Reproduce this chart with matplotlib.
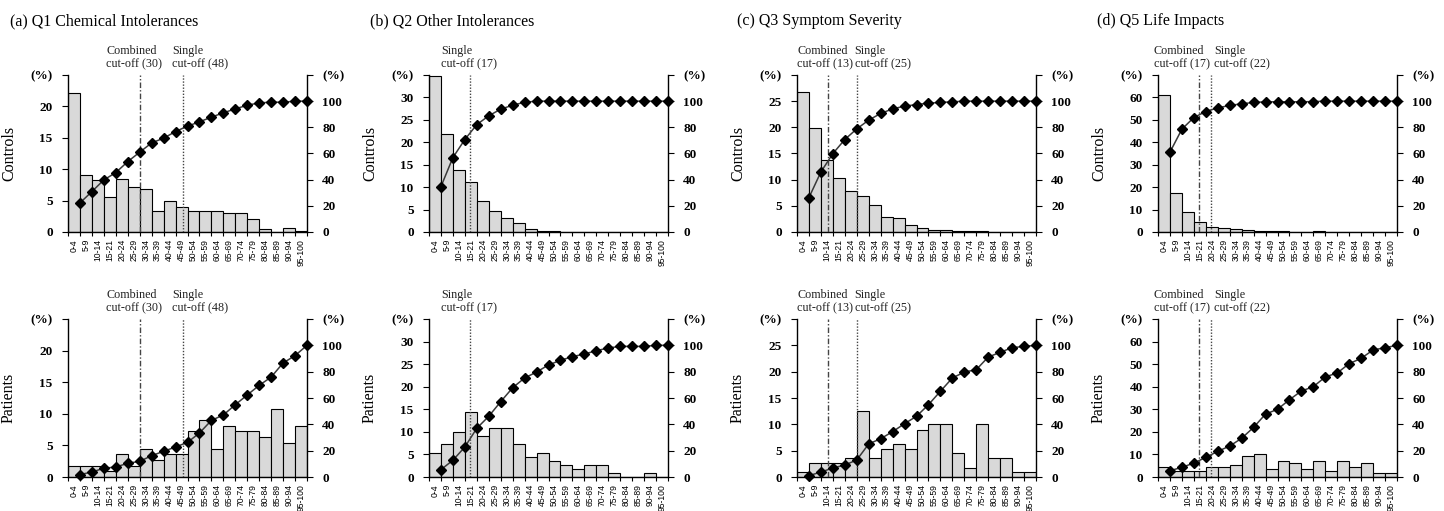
import matplotlib
matplotlib.use("Agg")
import matplotlib.pyplot as plt
import matplotlib.transforms as mtransforms
import numpy as np

plt.rcParams['font.family'] = ['Liberation Serif', 'DejaVu Serif']

bins = ["0-4", "5-9", "10-14", "15-21", "20-24", "25-29", "30-34", "35-39",
        "40-44", "45-49", "50-54", "55-59", "60-64", "65-69", "70-74",
        "75-79", "80-84", "85-89", "90-94", "95-100"]

titles = ["(a) Q1 Chemical Intolerances", "(b) Q2 Other Intolerances",
          "(c) Q3 Symptom Severity", "(d) Q5 Life Impacts"]
row_labels = ["Controls", "Patients"]

# Q1 Chemical Intolerances
q1_controls_pct = [22.1, 9.0, 8.3, 5.65, 8.5, 7.2, 6.9, 3.4, 5.0, 4.0,
                   3.4, 3.4, 3.4, 3.0, 3.0, 2.0, 0.4, 0.0, 0.6, 0.2]
q1_controls_cum = [22.2, 30.9, 39.8, 45.4, 53.8, 61.0, 68.1, 71.7, 76.8, 80.9,
                   84.2, 87.8, 91.1, 94.1, 96.9, 98.7, 99.2, 99.2, 100, 100]
q1_patients_pct = [1.8, 1.8, 1.8, 0.9, 3.6, 1.8, 4.5, 2.7, 3.6, 3.6,
                   7.3, 9.05, 4.5, 8.1, 7.3, 7.3, 6.4, 10.8, 5.4, 8.1]
q1_patients_cum = [1.8, 3.8, 6.6, 7.6, 10.4, 11.9, 16.2, 19.5, 22.8, 26.3,
                   33.4, 43.0, 47.1, 54.9, 62.3, 69.6, 75.9, 86.6, 92.2, 100]

# Q2 Other Intolerances
q2_controls_pct = [34.7, 21.8, 13.9, 11.2, 6.8, 4.7, 3.1, 2.1, 0.7, 0.15,
                   0.15, 0, 0, 0, 0, 0, 0, 0, 0, 0]
q2_controls_cum = [34.7, 56.9, 70.7, 82.1, 88.8, 93.9, 96.9, 99.2, 100, 100,
                   100, 100, 100, 100, 100, 100, 100, 100, 100, 100]
q2_patients_pct = [5.4, 7.2, 10.0, 14.5, 9.0, 10.9, 10.9, 7.2, 4.5, 5.4,
                   3.6, 2.7, 1.8, 2.7, 2.7, 0.9, 0, 0, 0.9, 0]
q2_patients_cum = [5.6, 12.7, 22.8, 37.0, 46.1, 57.2, 67.8, 75.2, 79.7, 85.1,
                   88.6, 91.4, 93.4, 95.9, 98.0, 99.2, 99.2, 99.2, 100, 100]

# Q3 Symptom Severity
q3_controls_pct = [26.7, 19.8, 13.8, 10.4, 7.9, 6.8, 5.2, 2.9, 2.7, 1.3,
                   0.8, 0.45, 0.45, 0.2, 0.2, 0.2, 0, 0, 0, 0]
q3_controls_cum = [26.3, 45.9, 59.9, 70.7, 78.8, 85.5, 90.6, 94.1, 96.2, 97.4,
                   98.5, 99.0, 99.5, 100, 100, 100, 100, 100, 100, 100]
q3_patients_pct = [0.9, 2.7, 2.7, 2.7, 3.6, 12.6, 3.6, 5.4, 6.3, 5.4,
                   9.0, 10.0, 10.0, 4.5, 1.8, 10.0, 3.6, 3.6, 0.9, 0.9]
q3_patients_cum = [1.0, 3.8, 6.8, 9.1, 12.9, 25.1, 29.1, 34.4, 40.5, 46.1,
                   54.9, 65.1, 75.2, 79.7, 81.5, 91.1, 94.7, 98.2, 99.2, 100]

# Q5 Life Impacts
q5_controls_pct = [61.3, 17.6, 8.9, 4.5, 2.3, 1.7, 1.35, 0.9, 0.3, 0.3,
                   0.3, 0, 0.15, 0.45, 0, 0, 0, 0, 0, 0]
q5_controls_cum = [61.0, 78.6, 87.5, 92.1, 94.9, 96.7, 98.0, 99.0, 99.5, 99.5,
                   99.5, 99.5, 99.7, 100, 100, 100, 100, 100, 100, 100]
q5_patients_pct = [4.6, 2.7, 2.7, 2.7, 4.6, 4.6, 5.5, 9.2, 10.0, 3.7,
                   7.2, 6.4, 3.7, 7.2, 2.7, 7.2, 4.6, 6.4, 1.8, 1.8]
q5_patients_cum = [4.8, 7.3, 10.6, 14.9, 19.5, 23.5, 29.4, 37.7, 47.8, 51.4,
                   58.7, 65.3, 68.6, 76.0, 79.0, 86.1, 90.1, 96.5, 98.2, 100]

# cut-off scores (score units) ; None = absent
combined_cutoffs = [30, None, 13, 17]
single_cutoffs = [48, 17, 25, 22]

left_ymax = [25, 35, 30, 70]
left_ystep = [5, 5, 5, 10]
right_ticks = [0, 20, 40, 60, 80, 100]

data = [
    [(q1_controls_pct, q1_controls_cum), (q1_patients_pct, q1_patients_cum)],
    [(q2_controls_pct, q2_controls_cum), (q2_patients_pct, q2_patients_cum)],
    [(q3_controls_pct, q3_controls_cum), (q3_patients_pct, q3_patients_cum)],
    [(q5_controls_pct, q5_controls_cum), (q5_patients_pct, q5_patients_cum)],
]

W, H = 1444, 511
fig = plt.figure(figsize=(W / 100, H / 100), dpi=100)

col_left = [68, 429, 797, 1158]
col_title_x = [10, 370, 737, 1097]
row_top = [75, 319]
row_bottom = [232, 477]
ax_w = 239
# text x positions (data units, left edge) for cut-off annotations
comb_text_x = [3.2, None, 0.0, -0.36]
single_text_x = [8.7, 1.03, 4.82, 4.68]

bar_color = '#d9d9d9'
line_color = '#3a3a3a'
tick_font = dict(family='Liberation Serif', weight='bold', size=9.5)

for c in range(4):
    fig.text(col_title_x[c] / W, 1 - 21 / H, titles[c], fontsize=11.5,
             ha='left', va='center', color='black')
    for r in range(2):
        pct, cum = data[c][r]
        top, bot = row_top[r], row_bottom[r]
        ax = fig.add_axes([col_left[c] / W, 1 - bot / H, ax_w / W, (bot - top) / H])
        x = np.arange(len(bins))
        ax.bar(x, pct, width=1.0, align='edge', color=bar_color,
               edgecolor='black', linewidth=0.8, zorder=2)
        ax.set_xlim(0, len(bins))
        ymax = left_ymax[c]
        ax.set_ylim(0, ymax)
        yt = list(range(0, ymax, left_ystep[c])) + [ymax]
        ax.set_yticks(yt)
        ax.set_yticklabels([str(v) for v in yt[:-1]] + ['(%)'], **tick_font)
        ax.set_xticks(x + 0.5)
        ax.set_xticklabels(bins, rotation=90, fontsize=6.2,
                           family='Liberation Sans', va='top', ha='center')
        ax.set_xticks(np.arange(len(bins) + 1), minor=True)
        ax.tick_params(axis='x', which='major', length=0, pad=5)
        ax.tick_params(axis='x', which='minor', length=3, width=0.8, direction='out')
        ax.tick_params(axis='y', length=4, width=0.8, pad=7, direction='out')
        for s in ['top', 'right']:
            ax.spines[s].set_visible(False)
        ax.spines['left'].set_linewidth(1.0)
        ax.spines['bottom'].set_linewidth(1.0)
        ax.set_ylabel(row_labels[r], fontsize=11.5)
        ax.yaxis.set_label_coords(-51 / ax_w, 0.5)

        # cut-off lines
        trans = mtransforms.blended_transform_factory(ax.transData, ax.transAxes)
        if combined_cutoffs[c] is not None:
            ax.axvline(combined_cutoffs[c] / 5, color='#444444', lw=1.0,
                       linestyle=(0, (4, 1.5, 1, 1.5)), zorder=3)
            ax.text(comb_text_x[c], 1.03, "Combined\ncut-off (%d)" % combined_cutoffs[c],
                    transform=trans, ha='left', va='bottom', fontsize=8.7,
                    linespacing=1.15, color='#222222', clip_on=False)
        if single_cutoffs[c] is not None:
            ax.axvline(single_cutoffs[c] / 5, color='#444444', lw=1.0,
                       linestyle=(0, (1, 1.2)), zorder=3)
            ax.text(single_text_x[c], 1.03, "Single\ncut-off (%d)" % single_cutoffs[c],
                    transform=trans, ha='left', va='bottom', fontsize=8.7,
                    linespacing=1.15, color='#222222', clip_on=False)

        ax2 = ax.twinx()
        ax2.plot(x + 1, cum, color=line_color, lw=1.1, marker='D', ms=5,
                 mfc='black', mec='black', zorder=4, clip_on=False)
        ax2.set_ylim(0, 120)
        ax2.set_yticks(right_ticks + [120])
        ax2.set_yticklabels([str(v) for v in right_ticks] + ['(%)'], **tick_font)
        ax2.tick_params(axis='y', length=4, width=0.8, pad=7, direction='out')
        ax2.spines['top'].set_visible(False)
        ax2.spines['left'].set_visible(False)
        ax2.spines['right'].set_linewidth(1.0)
        ax2.spines['bottom'].set_visible(False)

fig.savefig('out.png', dpi=100)
